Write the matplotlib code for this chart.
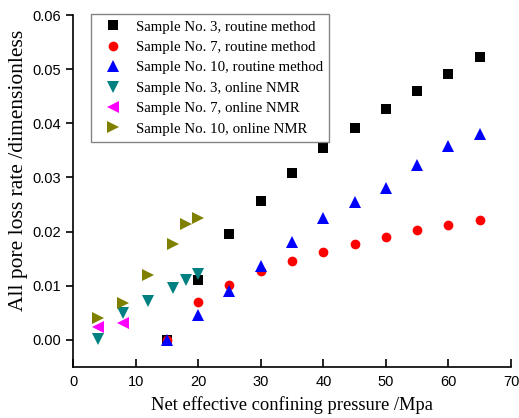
import matplotlib
matplotlib.use('Agg')
import matplotlib.pyplot as plt

# ── Data ──
x_routine = [15, 20, 25, 30, 35, 40, 45, 50, 55, 60, 65]
s3_routine = [0.0, 0.0111, 0.0195, 0.0256, 0.0308, 0.0354, 0.0392, 0.0426, 0.0459, 0.0491, 0.0522]
s7_routine = [0.0, 0.0070, 0.0102, 0.0127, 0.0145, 0.0162, 0.0177, 0.0191, 0.0203, 0.0213, 0.0221]
s10_routine = [0.0, 0.0046, 0.0090, 0.0136, 0.0181, 0.0226, 0.0255, 0.0281, 0.0323, 0.0358, 0.0381]

x_nmr3 = [4, 8, 12, 16, 18, 20]
s3_nmr = [0.0001, 0.0049, 0.0071, 0.0096, 0.0111, 0.0121]
x_nmr7 = [4, 8]
s7_nmr = [0.0024, 0.0032]
x_nmr10 = [4, 8, 12, 16, 18, 20]
s10_nmr = [0.0040, 0.0068, 0.0119, 0.0177, 0.0215, 0.0226]

series = [
    (x_routine, s3_routine, 's', 'black', 'Sample No. 3, routine method'),
    (x_routine, s7_routine, 'o', 'red', 'Sample No. 7, routine method'),
    (x_routine, s10_routine, '^', 'blue', 'Sample No. 10, routine method'),
    (x_nmr3, s3_nmr, 'v', '#008080', 'Sample No. 3, online NMR'),
    (x_nmr7, s7_nmr, '<', 'magenta', 'Sample No. 7, online NMR'),
    (x_nmr10, s10_nmr, '>', '#808000', 'Sample No. 10, online NMR'),
]

serif = ['Liberation Serif', 'DejaVu Serif']
sans = ['Liberation Sans', 'DejaVu Sans']

fig = plt.figure(figsize=(5.19, 4.18), dpi=100)
ax = fig.add_axes([0.1407, 0.122, 0.844, 0.842])

for xs, ys, m, c, lab in series:
    ms = 7 if m in ('s', 'o') else 8
    ax.plot(xs, ys, linestyle='none', marker=m, color=c, markersize=ms,
            markeredgewidth=0, label=lab)

ax.set_xlim(0, 70)
ax.set_ylim(-0.005, 0.06)
ax.set_xticks(range(0, 71, 10))
ax.set_yticks([0.0, 0.01, 0.02, 0.03, 0.04, 0.05, 0.06])
ax.set_yticklabels(['0.00', '0.01', '0.02', '0.03', '0.04', '0.05', '0.06'])

for lbl in ax.get_xticklabels() + ax.get_yticklabels():
    lbl.set_family(sans)
    lbl.set_fontsize(10.5)

ax.tick_params(axis='x', direction='in', length=6, width=1.2, pad=6)
ax.tick_params(axis='y', direction='out', length=5, width=1.2)
ax.spines['top'].set_visible(False)
ax.spines['right'].set_visible(False)
ax.spines['left'].set_linewidth(1.2)
ax.spines['bottom'].set_linewidth(1.2)

ax.set_xlabel('Net effective confining pressure /Mpa', family=serif, fontsize=13.3, labelpad=5)
ax.set_ylabel('All pore loss rate /dimensionless', family=serif, fontsize=15.5)
ax.yaxis.set_label_coords(-0.102, 0.56)

leg = ax.legend(loc='upper left', bbox_to_anchor=(90.7 / 519, (418 - 14.3) / 418),
                bbox_transform=fig.transFigure, prop={'family': serif, 'size': 10.7},
                frameon=True, fancybox=False, borderpad=0.4, handletextpad=0.5,
                labelspacing=0.47, handlelength=2.15, borderaxespad=0)
leg.get_frame().set_edgecolor('#666666')
leg.get_frame().set_linewidth(1.0)

plt.savefig('out.png', dpi=100)
